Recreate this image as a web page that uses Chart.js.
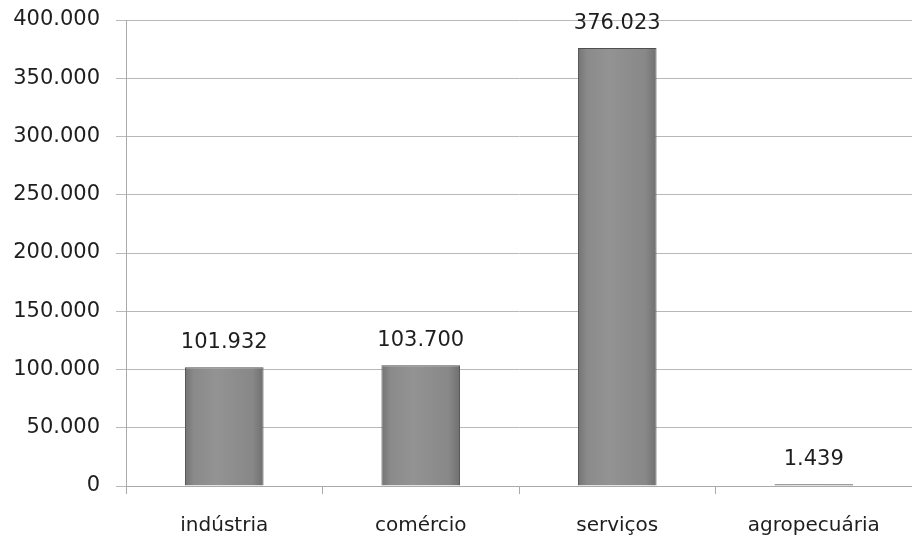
<!DOCTYPE html>
<html>
<head>
<meta charset="utf-8">
<script src="https://cdn.jsdelivr.net/npm/chart.js@4/dist/chart.umd.min.js"></script>
<style>
html,body{margin:0;padding:0;background:#fff;}
#wrap{width:912px;height:542px;}
</style>
</head>
<body>
<div id="wrap"><canvas id="c" width="912" height="542"></canvas></div>
<script>
const categories = ['indústria', 'comércio', 'serviços', 'agropecuária'];
const values = [101932, 103700, 376023, 1439];
const yTicks = [0, 50000, 100000, 150000, 200000, 250000, 300000, 350000, 400000];

const FONT = 'DejaVu Sans';
function fmt(v) {
  return String(Math.round(v)).replace(/\B(?=(\d{3})+(?!\d))/g, '.');
}

function barFill(ctx) {
  const chart = ctx.chart;
  const area = chart.chartArea;
  if (!area || !chart.scales.x) return '#888';
  const x = chart.scales.x.getPixelForValue(ctx.dataIndex);
  const half = 40;
  const g = chart.ctx.createLinearGradient(x - half, 0, x + half, 0);
  g.addColorStop(0, '#727272');
  g.addColorStop(0.12, '#8a8a8a');
  g.addColorStop(0.4, '#939393');
  g.addColorStop(0.85, '#888888');
  g.addColorStop(1, '#6e6e6e');
  return g;
}

const labelPlugin = {
  id: 'valLabels',
  afterDatasetsDraw(chart) {
    const c = chart.ctx;
    const meta = chart.getDatasetMeta(0);
    c.save();
    c.font = '21px "' + FONT + '"';
    c.fillStyle = '#1e1e1e';
    c.textAlign = 'center';
    c.textBaseline = 'alphabetic';
    meta.data.forEach((bar, i) => {
      c.fillText(fmt(values[i]), bar.x, bar.y - 19);
    });
    c.restore();
  }
};

new Chart(document.getElementById('c'), {
  type: 'bar',
  data: {
    labels: categories,
    datasets: [{
      data: values,
      backgroundColor: barFill,
      borderColor: '#505050',
      borderWidth: 1,
      barPercentage: 0.4,
      categoryPercentage: 1.0
    }]
  },
  options: {
    responsive: false,
    animation: false,
    layout: { padding: { top: 20, right: 0, left: 0, bottom: 0 } },
    plugins: { legend: { display: false }, tooltip: { enabled: false } },
    scales: {
      x: {
        offset: true,
        grid: {
          display: true,
          drawOnChartArea: false,
          drawTicks: true,
          tickLength: 8,
          color: '#aaa',
          offset: true
        },
        border: { display: true, color: '#aaa' },
        ticks: {
          color: '#1e1e1e',
          font: { family: FONT, size: 20 },
          padding: 20,
          maxRotation: 0
        },
        afterFit(scale) { scale.height = 56; }
      },
      y: {
        min: 0,
        max: 400000,
        afterBuildTicks(scale) { scale.ticks = yTicks.map(v => ({ value: v })); },
        grid: {
          color: '#b8b8b8',
          tickLength: 10,
          drawTicks: true
        },
        border: { display: true, color: '#aaa' },
        ticks: {
          color: '#1e1e1e',
          font: { family: FONT, size: 21 },
          padding: 16,
          callback: (v) => fmt(v)
        },
        afterFit(scale) {
          scale.width = 126;
          scale.paddingTop = 0;
          scale.paddingBottom = 0;
        }
      }
    }
  },
  plugins: [labelPlugin]
});
</script>
</body>
</html>
